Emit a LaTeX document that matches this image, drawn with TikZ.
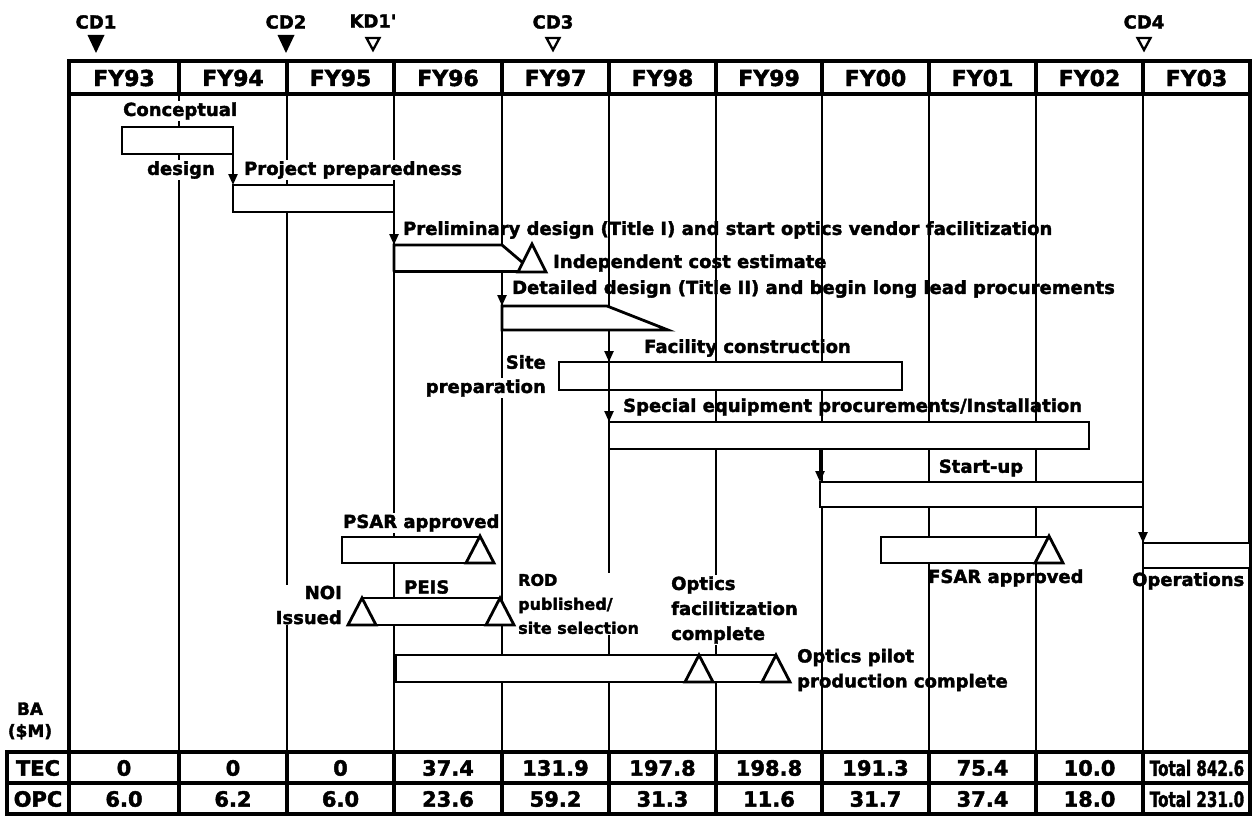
\documentclass[tikz,border=0pt]{standalone}
\usepackage{fontspec}
\setmainfont{DejaVu Sans}[BoldFeatures={FakeBold=2}]
\usepackage{graphicx}
\usetikzlibrary{arrows.meta,positioning,calc}

\begin{document}
\begin{tikzpicture}[x=1pt,y=-1pt,
  lbl/.style={font=\bfseries\fontsize{18}{25}\selectfont, inner sep=1pt},
  masked/.style={lbl, fill=white},
  small/.style={font=\bfseries\fontsize{16}{24}\selectfont},
  fy/.style={font=\bfseries\fontsize{22}{24}\selectfont, inner sep=0pt},
  cell/.style={font=\bfseries\fontsize{21}{24}\selectfont, inner sep=0pt},
  cd/.style={font=\bfseries\fontsize{18}{20}\selectfont, inner sep=0pt},
  bar/.style={draw, line width=2.8pt, fill=white, inner sep=0pt, outer sep=0pt, anchor=north west},
  gridline/.style={line width=2.3pt},
  frame/.style={line width=3.2pt},
  flow/.style={line width=2.3pt, -{Triangle[length=11pt,width=9pt]}},
  ms/.style={draw, line width=2.8pt, fill=white, line join=miter}]
\useasboundingbox (0,0) rectangle (1254,816);

% milestones on top
\node[cd] (cd1) at (96,22) {CD1};
\node[cd] (cd2) at (286,22) {CD2};
\node[cd] (kd1) at (373,21) {KD1\textquotesingle};
\node[cd] (cd3) at (553,22) {CD3};
\node[cd] (cd4) at (1144,22) {CD4};
\fill (87.5,35) -- (104.5,35) -- (96,53) -- cycle;
\fill (277.5,35) -- (294.5,35) -- (286,53) -- cycle;
\draw[line width=2.3pt] (366.5,38) -- (379.5,38) -- (373,50) -- cycle;
\draw[line width=2.3pt] (546.5,38) -- (559.5,38) -- (553,50) -- cycle;
\draw[line width=2.3pt] (1137.5,38) -- (1150.5,38) -- (1144,50) -- cycle;

% header row
\draw[frame] (69,61) rectangle (1250,94);
\draw[frame] (179,61) -- (179,94) (287,61) -- (287,94) (394,61) -- (394,94)
  (502,61) -- (502,94) (609,61) -- (609,94) (716,61) -- (716,94) (822,61) -- (822,94)
  (929,61) -- (929,94) (1036,61) -- (1036,94) (1143,61) -- (1143,94);
\node[fy] (fy93) at (124,78) {FY93};
\node[fy] (fy94) at (233,78) {FY94};
\node[fy] (fy95) at (340.5,78) {FY95};
\node[fy] (fy96) at (448,78) {FY96};
\node[fy] (fy97) at (555.5,78) {FY97};
\node[fy] (fy98) at (662.5,78) {FY98};
\node[fy] (fy99) at (769,78) {FY99};
\node[fy] (fy00) at (875.5,78) {FY00};
\node[fy] (fy01) at (982.5,78) {FY01};
\node[fy] (fy02) at (1089.5,78) {FY02};
\node[fy] (fy03) at (1196.5,78) {FY03};

% year lines through the body
\draw[frame] (69,94) -- (69,752) (1250,94) -- (1250,752);
\draw[gridline] (179,94) -- (179,752) (287,94) -- (287,752) (394,94) -- (394,752)
  (502,94) -- (502,752) (609,94) -- (609,752) (716,94) -- (716,752) (822,94) -- (822,752)
  (929,94) -- (929,752) (1036,94) -- (1036,752) (1143,94) -- (1143,752);

% activity labels
\node[masked, anchor=west] (concepttxt) at (122,111) {Conceptual};
\node[masked, anchor=east] (designtxt) at (216,170) {design};
\node[masked, anchor=west] (preptxt) at (243,170) {Project preparedness};
\node[lbl, anchor=west] (prelimtxt) at (402,230) {Preliminary design (Title I) and start optics vendor facilitization};
\node[lbl, anchor=west] (icetxt) at (552,263) {Independent cost estimate};
\node[lbl, anchor=west] (dettxt) at (511,289) {Detailed design (Title II) and begin long lead procurements};
\node[lbl, anchor=west] (factxt) at (643,348) {Facility construction};
\node[lbl, anchor=east] (sitetxt) at (547,362) {Site};
\node[masked, anchor=east] (sitetxt2) at (547,388) {preparation};
\node[lbl, anchor=west] (spectxt) at (622,407) {Special equipment procurements/Installation};
\node[lbl] (starttxt) at (981,468) {Start-up};
\node[masked, anchor=west] (psartxt) at (342,523) {PSAR approved};
\node[lbl, anchor=west] (fsartxt) at (927,578) {FSAR approved};
\node[lbl, anchor=west] (opstxt) at (1131,581) {Operations};
\node[masked, anchor=east, align=right] (noitxt) at (343,605) {NOI\\Issued};
\node[lbl, anchor=west] (peistxt) at (403,587) {PEIS};
\node[masked, small, anchor=west, align=left] (rodtxt) at (517,604) {ROD\\published/\\site selection};
\node[masked, anchor=west, align=left] (optfactxt) at (670,610) {Optics\\facilitization\\complete};
\node[lbl, anchor=west, align=left] (pilottxt) at (796,670) {Optics pilot\\production complete};

% bars
\node[bar, minimum width=111, minimum height=27] (concept) at (122,127) {};
\node[bar, minimum width=161, minimum height=27] (prep) at (233,185) {};
\coordinate (prelimNW) at (394,245);
\coordinate (prelimS) at (502,271.5);
\fill[white] (394,245) -- (502,245) -- (522.7,262.6) -- (518,271.5) -- (394,271.5) -- cycle;
\draw[line width=2.8pt] (394,271.5) -- (prelimNW) -- (502,245) -- (522.7,262.6);
\draw[line width=2.8pt] (394,271.5) -- (518,271.5);
\draw[ms] (532,244) -- ++(-14,28) -- ++(28,0) -- cycle;
\coordinate (detNW) at (502,306);
\coordinate (detS) at (609,330);
\filldraw[fill=white, line width=2.8pt] (detNW) -- (607,306) -- (668,330) -- (502,330) -- cycle;
\node[bar, minimum width=343, minimum height=28] (facility) at (559,362) {};
\node[bar, minimum width=480, minimum height=27] (special) at (609,422) {};
\node[bar, minimum width=323, minimum height=25] (startup) at (820,482) {};
\node[bar, minimum width=107, minimum height=25] (ops) at (1143,543) {};
% PSAR and FSAR
\fill[white] (342,537) -- (480,537) -- (466,563) -- (342,563) -- cycle;
\draw[line width=2.8pt] (480,537) -- (342,537) -- (342,563) -- (466,563);
\draw[ms] (480,536) -- ++(-14,27) -- ++(28,0) -- cycle;
\fill[white] (881,537) -- (1049,537) -- (1035,563) -- (881,563) -- cycle;
\draw[line width=2.8pt] (1049,537) -- (881,537) -- (881,563) -- (1035,563);
\draw[ms] (1049,536) -- ++(-14,27) -- ++(28,0) -- cycle;
% PEIS
\fill[white] (362,598) -- (500,598) -- (486,625) -- (376,625) -- cycle;
\draw[line width=2.8pt] (362,598) -- (500,598) (376,625) -- (486,625);
\draw[ms] (362,598) -- ++(-14,27) -- ++(28,0) -- cycle;
\draw[ms] (500,598) -- ++(-14,27) -- ++(28,0) -- cycle;
% optics
\fill[white] (396,655) -- (776,655) -- (762,682) -- (396,682) -- cycle;
\draw[line width=2.8pt] (776,655) -- (396,655) -- (396,682) -- (762,682);
\draw[ms] (699,655) -- ++(-14,27) -- ++(28,0) -- cycle;
\draw[ms] (776,655) -- ++(-14,27) -- ++(28,0) -- cycle;

% links
\draw[flow] (concept.south east) -- (prep.north west);
\draw[flow] (prep.south east) -- (prelimNW);
\draw[flow] (prelimS) -- (detNW);
\draw[flow] (detS) -- (detS |- facility.north);
\draw[flow] (detS |- facility.north) -- (special.north west);
\draw[flow] (startup.north west |- special.south) -- (startup.north west);
\draw[flow] (startup.south east) -- (ops.north west);

% funding table
\node[font=\bfseries\fontsize{17}{22}\selectfont, align=center] (ba) at (30,721) {BA\\(\$M)};
\draw[frame] (7,752) rectangle (1250,814);
\draw[frame] (7,783) -- (1250,783);
\draw[frame] (69,752) -- (69,814) (179,752) -- (179,814) (287,752) -- (287,814)
  (394,752) -- (394,814) (502,752) -- (502,814) (609,752) -- (609,814) (716,752) -- (716,814)
  (822,752) -- (822,814) (929,752) -- (929,814) (1036,752) -- (1036,814) (1143,752) -- (1143,814);
\node[cell] (tec) at (38,768) {TEC};
\node[cell] (opc) at (38,799) {OPC};
\node[cell] (tec93) at (124,768) {0};
\node[cell] (tec94) at (233,768) {0};
\node[cell] (tec95) at (340.5,768) {0};
\node[cell] (tec96) at (448,768) {37.4};
\node[cell] (tec97) at (555.5,768) {131.9};
\node[cell] (tec98) at (662.5,768) {197.8};
\node[cell] (tec99) at (769,768) {198.8};
\node[cell] (tec00) at (875.5,768) {191.3};
\node[cell] (tec01) at (982.5,768) {75.4};
\node[cell] (tec02) at (1089.5,768) {10.0};
\node[cell] (tectot) at (1197,768) {\scalebox{0.72}[1]{Total 842.6}};
\node[cell] (opc93) at (124,799) {6.0};
\node[cell] (opc94) at (233,799) {6.2};
\node[cell] (opc95) at (340.5,799) {6.0};
\node[cell] (opc96) at (448,799) {23.6};
\node[cell] (opc97) at (555.5,799) {59.2};
\node[cell] (opc98) at (662.5,799) {31.3};
\node[cell] (opc99) at (769,799) {11.6};
\node[cell] (opc00) at (875.5,799) {31.7};
\node[cell] (opc01) at (982.5,799) {37.4};
\node[cell] (opc02) at (1089.5,799) {18.0};
\node[cell] (opctot) at (1197,799) {\scalebox{0.72}[1]{Total 231.0}};
\end{tikzpicture}
\end{document}
